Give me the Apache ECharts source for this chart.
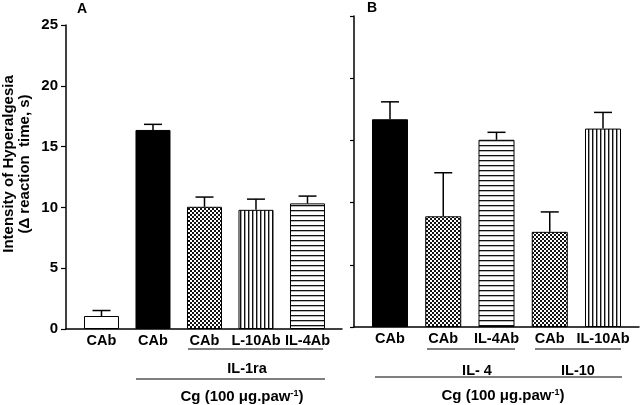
<!DOCTYPE html>
<html><head><meta charset="utf-8">
<script src="https://cdn.jsdelivr.net/npm/echarts@6/dist/echarts.min.js"></script>
<style>html,body{margin:0;padding:0;background:#fff}#c{width:640px;height:405px}</style>
</head><body><div id="c"></div>
<script>
// ---- data ----
const catA = ['CAb', 'CAb', 'CAb', 'L-10Ab', 'IL-4Ab'];
const valA = [1.07, 16.37, 10.05, 9.8, 10.33];
const errA = [0.45, 0.46, 0.8, 0.88, 0.6];
const catB = ['CAb', 'CAb', 'IL-4Ab', 'CAb', 'IL-10Ab'];
const valB = [16.7, 8.9, 15.05, 7.65, 15.95];
const errB = [1.4, 3.5, 0.6, 1.6, 1.3];
const yTicks = [0, 5, 10, 15, 20, 25];
// fill style keys (styles, not data)
const fillA = ['white', 'black', 'check', 'vstripe', 'hstripe'];
const fillB = ['black', 'check', 'hstripe', 'check', 'vstripe'];

function mkCanvas(w, h, draw) {
  const c = document.createElement('canvas'); c.width = w; c.height = h;
  const g = c.getContext('2d'); g.fillStyle = '#fff'; g.fillRect(0, 0, w, h); draw(g); return c;
}
const patterns = {
  white: '#ffffff',
  black: '#000000',
  check: { image: mkCanvas(4, 4, g => { g.fillStyle = '#111'; g.fillRect(0, 0, 2, 2); g.fillRect(2, 2, 2, 2); }), repeat: 'repeat' },
  vstripe: { image: mkCanvas(4, 4, g => { g.fillStyle = '#111'; g.fillRect(0, 0, 1.4, 4); }), repeat: 'repeat' },
  hstripe: { image: mkCanvas(5, 5, g => { g.fillStyle = '#111'; g.fillRect(0, 0, 5, 1.3); }), repeat: 'repeat' }
};

const FONT = 'Liberation Sans, Arial, sans-serif';
const chart = echarts.init(document.getElementById('c'), null, { renderer: 'canvas' });

function barData(cats, vals, fills) {
  return vals.map((v, i) => ({
    value: [i + 1, v], name: cats[i],
    itemStyle: { color: patterns[fills[i]], borderColor: '#000', borderWidth: 1 }
  }));
}
function errData(vals, errs) { return vals.map((v, i) => [i + 1, v, errs[i]]); }
function errRender(params, api) {
  const x = api.value(0), v = api.value(1), e = api.value(2);
  const p0 = api.coord([x, v]), p1 = api.coord([x, v + e]);
  const st = { stroke: '#000', lineWidth: 1.5 };
  return { type: 'group', children: [
    { type: 'line', shape: { x1: p0[0], y1: p0[1], x2: p1[0], y2: p1[1] }, style: st },
    { type: 'line', shape: { x1: p1[0] - 9, y1: p1[1], x2: p1[0] + 9, y2: p1[1] }, style: st }
  ]};
}
const axisLine = { show: true, lineStyle: { color: '#000', width: 1.5 } };
const barLabel = { show: true, position: 'bottom', distance: 4, formatter: '{b}', color: '#000', fontWeight: 'bold', fontSize: 14.5, fontFamily: FONT };

const yBase = { type: 'value', min: yTicks[0], max: yTicks[yTicks.length - 1], interval: 5, axisLine: axisLine,
  axisTick: { show: true, length: 5, lineStyle: { color: '#000', width: 1.2 } }, splitLine: { show: false } };

chart.setOption({
  animation: false,
  backgroundColor: '#fff',
  grid: [
    { left: 66, right: 298, top: 25, bottom: 76 },
    { left: 354, right: 1, top: 16, bottom: 78 }
  ],
  xAxis: [
    { type: 'value', gridIndex: 0, min: 0.311, max: 5.67, axisLine: axisLine, axisTick: { show: false }, axisLabel: { show: false }, splitLine: { show: false } },
    { type: 'value', gridIndex: 1, min: 0.324, max: 5.676, axisLine: axisLine, axisTick: { show: false }, axisLabel: { show: false }, splitLine: { show: false } }
  ],
  yAxis: [
    Object.assign({}, yBase, { gridIndex: 0, axisLabel: { margin: 8, color: '#000', fontWeight: 'bold', fontSize: 15, fontFamily: FONT } }),
    Object.assign({}, yBase, { gridIndex: 1, axisTick: { show: true, length: 4, lineStyle: { color: '#000', width: 1.2 } }, axisLabel: { show: false } })
  ],
  series: [
    { type: 'bar', xAxisIndex: 0, yAxisIndex: 0, barWidth: 35, data: barData(catA, valA, fillA), label: barLabel },
    { type: 'custom', xAxisIndex: 0, yAxisIndex: 0, renderItem: errRender, data: errData(valA, errA), z: 5 },
    { type: 'bar', xAxisIndex: 1, yAxisIndex: 1, barWidth: 36, data: barData(catB, valB, fillB), label: barLabel },
    { type: 'custom', xAxisIndex: 1, yAxisIndex: 1, renderItem: errRender, data: errData(valB, errB), z: 5 }
  ],
  graphic: [
    { type: 'text', x: 82, y: 9, style: { text: 'A', font: 'bold 14px ' + FONT, fill: '#000', align: 'center', verticalAlign: 'middle' } },
    { type: 'text', x: 372, y: 8, style: { text: 'B', font: 'bold 14px ' + FONT, fill: '#000', align: 'center', verticalAlign: 'middle' } },
    { type: 'text', x: 17, y: 164, rotation: Math.PI / 2,
      style: { text: 'Intensity of Hyperalgesia\n(\u0394 reaction  time, s)', font: 'bold 15px ' + FONT, lineHeight: 16, fill: '#000', align: 'center', verticalAlign: 'middle' } },
    // panel A group annotations
    { type: 'line', shape: { x1: 188, y1: 349, x2: 323, y2: 349 }, style: { stroke: '#000', lineWidth: 1.2 } },
    { type: 'text', x: 247, y: 369, style: { text: 'IL-1ra', font: 'bold 14.5px ' + FONT, fill: '#000', align: 'center', verticalAlign: 'middle' } },
    { type: 'line', shape: { x1: 136, y1: 379, x2: 325, y2: 379 }, style: { stroke: '#000', lineWidth: 1.2 } },
    { type: 'text', x: 242, y: 397, style: { text: 'Cg (100 \u03bcg.paw{s|-1})', rich: { s: { font: 'bold 9px ' + FONT, fill: '#000', verticalAlign: 'top', padding: [0, 0, 7, 0] } }, font: 'bold 15px ' + FONT, fill: '#000', align: 'center', verticalAlign: 'middle' } },
    // panel B group annotations
    { type: 'line', shape: { x1: 427, y1: 349, x2: 515, y2: 349 }, style: { stroke: '#000', lineWidth: 1.2 } },
    { type: 'line', shape: { x1: 535, y1: 349, x2: 621, y2: 349 }, style: { stroke: '#000', lineWidth: 1.2 } },
    { type: 'text', x: 477, y: 371, style: { text: 'IL- 4', font: 'bold 14.5px ' + FONT, fill: '#000', align: 'center', verticalAlign: 'middle' } },
    { type: 'text', x: 578, y: 371, style: { text: 'IL-10', font: 'bold 14.5px ' + FONT, fill: '#000', align: 'center', verticalAlign: 'middle' } },
    { type: 'line', shape: { x1: 375, y1: 377, x2: 622, y2: 377 }, style: { stroke: '#000', lineWidth: 1.2 } },
    { type: 'text', x: 503, y: 396, style: { text: 'Cg (100 \u03bcg.paw{s|-1})', rich: { s: { font: 'bold 9px ' + FONT, fill: '#000', verticalAlign: 'top', padding: [0, 0, 7, 0] } }, font: 'bold 15px ' + FONT, fill: '#000', align: 'center', verticalAlign: 'middle' } }
  ]
});
</script></body></html>
